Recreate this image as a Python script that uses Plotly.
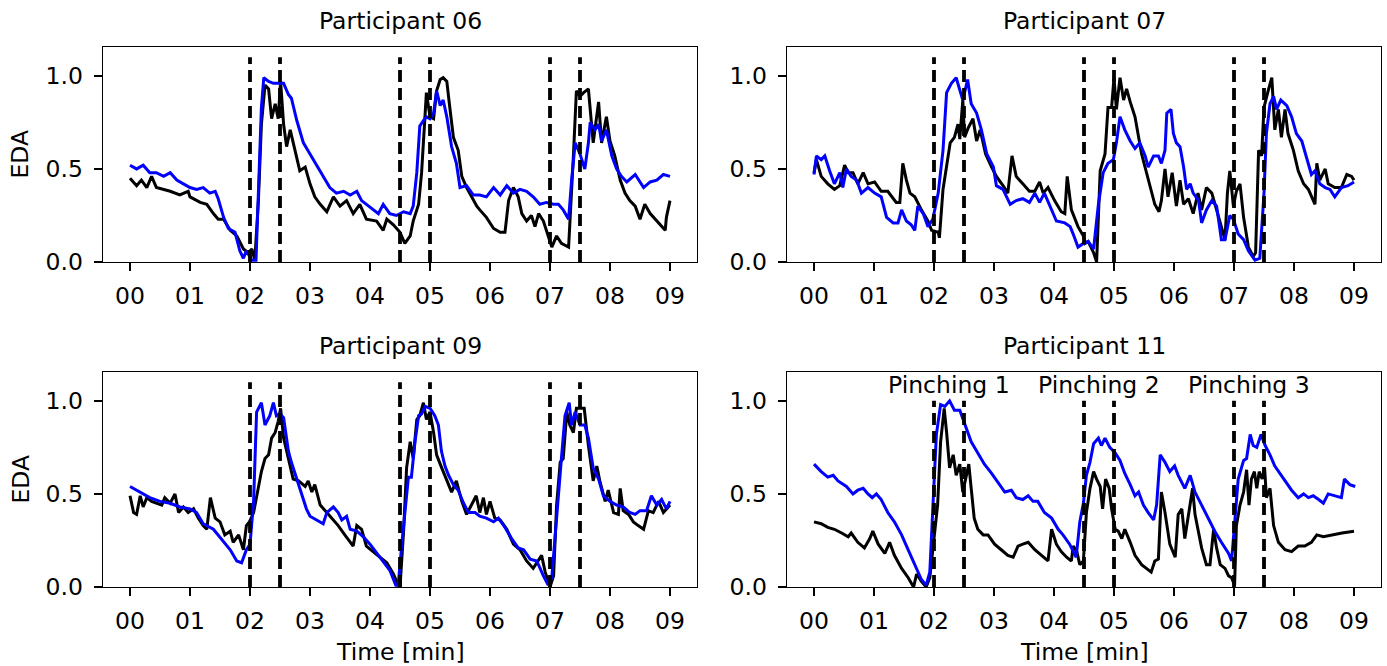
import plotly.graph_objects as go

# ---------------- data ----------------
EVENT_TIMES = [2.0, 2.5, 4.5, 5.0, 7.0, 7.5]
X_TICKS = [0, 1, 2, 3, 4, 5, 6, 7, 8, 9]
X_TICK_LABELS = ["00", "01", "02", "03", "04", "05", "06", "07", "08", "09"]
Y_TICKS = [0.0, 0.5, 1.0]
Y_TICK_LABELS = ["0.0", "0.5", "1.0"]
PINCH_LABELS = ["Pinching 1", "Pinching 2", "Pinching 3"]
PINCH_CENTERS = [2.25, 4.75, 7.25]

p06_t_black = [0, 0.11, 0.19, 0.28, 0.36, 0.44, 0.67, 0.83, 0.97, 1.0,
               1.17, 1.28, 1.39, 1.47, 1.56, 1.67, 1.78, 1.89, 1.97, 2.03,
               2.08, 2.14, 2.19, 2.25, 2.31, 2.36, 2.42, 2.47, 2.51, 2.56,
               2.61, 2.67, 2.75, 2.83, 2.92, 3.0, 3.08, 3.17, 3.28, 3.39,
               3.5, 3.61, 3.72, 3.83, 3.94, 4.11, 4.22, 4.28, 4.39, 4.5,
               4.58, 4.67, 4.72, 4.81, 4.86, 4.92, 4.94, 5.0, 5.06, 5.11,
               5.17, 5.22, 5.28, 5.33, 5.39, 5.47, 5.53, 5.61, 5.69, 5.78,
               5.83, 5.94, 6.06, 6.17, 6.25, 6.31, 6.39, 6.47, 6.53, 6.61,
               6.69, 6.75, 6.81, 6.89, 6.97, 7.03, 7.11, 7.19, 7.31, 7.33,
               7.39, 7.44, 7.5, 7.56, 7.64, 7.72, 7.81, 7.86, 7.94, 8.0,
               8.08, 8.17, 8.25, 8.33, 8.42, 8.5, 8.58, 8.67, 8.78, 8.92,
               8.94, 9.0]
p06_black = [0.45, 0.41, 0.44, 0.40, 0.46, 0.40, 0.38, 0.36, 0.38, 0.35,
             0.32, 0.31, 0.26, 0.23, 0.23, 0.17, 0.14, 0.07, 0.05, 0.07,
             0.01, 0.33, 0.74, 0.95, 0.93, 0.77, 0.85, 0.77, 0.97, 0.74,
             0.62, 0.71, 0.60, 0.49, 0.51, 0.42, 0.35, 0.31, 0.27, 0.35,
             0.30, 0.33, 0.26, 0.31, 0.23, 0.22, 0.17, 0.23, 0.20, 0.16,
             0.10, 0.14, 0.22, 0.31, 0.48, 0.80, 0.91, 0.78, 0.77, 0.92,
             0.98, 0.99, 0.97, 0.83, 0.67, 0.60, 0.46, 0.40, 0.35, 0.30,
             0.28, 0.24, 0.18, 0.16, 0.16, 0.33, 0.40, 0.35, 0.26, 0.22,
             0.25, 0.19, 0.26, 0.22, 0.14, 0.08, 0.14, 0.10, 0.08, 0.19,
             0.57, 0.92, 0.89, 0.91, 0.93, 0.64, 0.86, 0.64, 0.78, 0.65,
             0.57, 0.44, 0.37, 0.33, 0.30, 0.23, 0.31, 0.26, 0.22, 0.17,
             0.24, 0.33]

p06_t_blue = [0, 0.11, 0.22, 0.33, 0.44, 0.56, 0.67, 0.78, 0.89, 1.0,
              1.11, 1.22, 1.33, 1.42, 1.47, 1.56, 1.64, 1.75, 1.83, 1.89,
              1.94, 2.03, 2.1, 2.14, 2.19, 2.23, 2.31, 2.39, 2.47, 2.56,
              2.64, 2.69, 2.78, 2.89, 3.0, 3.11, 3.22, 3.33, 3.44, 3.56,
              3.67, 3.78, 3.86, 3.94, 4.06, 4.14, 4.22, 4.33, 4.44, 4.56,
              4.67, 4.72, 4.78, 4.83, 4.89, 4.94, 5.0, 5.06, 5.11, 5.17,
              5.22, 5.28, 5.36, 5.44, 5.5, 5.61, 5.72, 5.83, 5.94, 6.06,
              6.17, 6.28, 6.39, 6.5, 6.61, 6.72, 6.83, 6.94, 7.06, 7.14,
              7.22, 7.31, 7.36, 7.42, 7.5, 7.58, 7.64, 7.67, 7.75, 7.81,
              7.86, 7.94, 8.03, 8.11, 8.19, 8.28, 8.42, 8.56, 8.67, 8.78,
              8.89, 9.0]
p06_blue = [0.52, 0.50, 0.52, 0.48, 0.48, 0.46, 0.48, 0.44, 0.42, 0.40,
            0.39, 0.40, 0.37, 0.38, 0.34, 0.24, 0.18, 0.16, 0.06, 0.02,
            0.06, 0.01, 0.01, 0.39, 0.83, 0.99, 0.97, 0.96, 0.96, 0.96,
            0.90, 0.88, 0.76, 0.64, 0.58, 0.52, 0.46, 0.40, 0.37, 0.38,
            0.36, 0.38, 0.33, 0.31, 0.28, 0.26, 0.31, 0.26, 0.25, 0.27,
            0.26, 0.30, 0.48, 0.73, 0.76, 0.78, 0.77, 0.80, 0.92, 0.84,
            0.87, 0.78, 0.62, 0.53, 0.40, 0.41, 0.36, 0.36, 0.35, 0.40,
            0.36, 0.41, 0.37, 0.39, 0.38, 0.35, 0.31, 0.32, 0.31, 0.31,
            0.28, 0.23, 0.44, 0.64, 0.58, 0.50, 0.64, 0.75, 0.71, 0.74,
            0.65, 0.71, 0.57, 0.50, 0.46, 0.43, 0.47, 0.40, 0.43, 0.44,
            0.47, 0.46]

p07_t_black = [0, 0.04, 0.12, 0.23, 0.34, 0.43, 0.51, 0.57, 0.65, 0.73,
               0.82, 0.9, 1.01, 1.12, 1.23, 1.37, 1.43, 1.48, 1.54, 1.6,
               1.68, 1.79, 1.9, 1.96, 2.07, 2.09, 2.15, 2.21, 2.27, 2.34,
               2.4, 2.43, 2.48, 2.51, 2.57, 2.65, 2.71, 2.77, 2.86, 2.96,
               3.04, 3.15, 3.23, 3.3, 3.37, 3.48, 3.59, 3.68, 3.76, 3.82,
               3.9, 4.01, 4.12, 4.18, 4.22, 4.29, 4.4, 4.49, 4.52, 4.57,
               4.66, 4.71, 4.77, 4.85, 4.9, 4.96, 5.0, 5.04, 5.1, 5.16,
               5.21, 5.27, 5.35, 5.46, 5.57, 5.68, 5.75, 5.79, 5.85, 5.9,
               5.97, 6.04, 6.1, 6.16, 6.24, 6.32, 6.4, 6.46, 6.54, 6.63,
               6.71, 6.79, 6.85, 6.89, 6.93, 6.99, 7.04, 7.1, 7.16, 7.24,
               7.32, 7.36, 7.41, 7.46, 7.5, 7.57, 7.63, 7.68, 7.74, 7.79,
               7.85, 7.9, 7.99, 8.07, 8.16, 8.24, 8.35, 8.38, 8.43, 8.52,
               8.57, 8.68, 8.79, 8.88, 8.96, 9.0]
p07_black = [0.48, 0.55, 0.46, 0.42, 0.39, 0.41, 0.52, 0.48, 0.48, 0.42,
             0.48, 0.42, 0.43, 0.38, 0.38, 0.32, 0.32, 0.53, 0.44, 0.37,
             0.35, 0.28, 0.22, 0.17, 0.16, 0.13, 0.39, 0.51, 0.64, 0.67,
             0.74, 0.66, 0.87, 0.67, 0.72, 0.77, 0.65, 0.71, 0.58, 0.51,
             0.46, 0.41, 0.37, 0.57, 0.46, 0.42, 0.38, 0.38, 0.43, 0.37,
             0.40, 0.33, 0.27, 0.26, 0.46, 0.28, 0.19, 0.14, 0.10, 0.11,
             0.05, 0.00, 0.49, 0.58, 0.83, 0.83, 0.99, 0.82, 0.99, 0.87,
             0.93, 0.86, 0.78, 0.58, 0.44, 0.31, 0.27, 0.33, 0.50, 0.35,
             0.48, 0.30, 0.44, 0.31, 0.34, 0.26, 0.37, 0.28, 0.40, 0.37,
             0.28, 0.19, 0.12, 0.37, 0.49, 0.30, 0.38, 0.42, 0.24, 0.08,
             0.03, 0.05, 0.60, 0.57, 0.83, 0.92, 0.99, 0.71, 0.82, 0.67,
             0.82, 0.69, 0.60, 0.49, 0.42, 0.39, 0.31, 0.53, 0.44, 0.50,
             0.42, 0.40, 0.40, 0.47, 0.46, 0.44]

p07_t_blue = [0, 0.04, 0.12, 0.18, 0.26, 0.34, 0.43, 0.48, 0.54, 0.62,
              0.71, 0.79, 0.9, 1.01, 1.12, 1.21, 1.32, 1.4, 1.46, 1.54,
              1.62, 1.68, 1.73, 1.82, 1.9, 1.98, 2.07, 2.15, 2.21, 2.29,
              2.37, 2.43, 2.48, 2.56, 2.62, 2.71, 2.79, 2.88, 2.99, 3.04,
              3.15, 3.27, 3.37, 3.48, 3.59, 3.68, 3.76, 3.84, 3.96, 4.04,
              4.18, 4.27, 4.32, 4.4, 4.49, 4.57, 4.66, 4.74, 4.82, 4.9,
              4.99, 5.04, 5.1, 5.18, 5.27, 5.35, 5.43, 5.52, 5.57, 5.66,
              5.74, 5.79, 5.85, 5.88, 5.95, 5.99, 6.04, 6.1, 6.16, 6.21,
              6.27, 6.32, 6.41, 6.46, 6.54, 6.63, 6.71, 6.79, 6.85, 6.93,
              6.99, 7.07, 7.16, 7.24, 7.35, 7.43, 7.5, 7.54, 7.6, 7.66,
              7.71, 7.78, 7.88, 7.96, 8.04, 8.13, 8.21, 8.29, 8.35, 8.43,
              8.52, 8.6, 8.68, 8.79, 8.9, 9.0]
p07_blue = [0.47, 0.57, 0.55, 0.57, 0.49, 0.42, 0.48, 0.40, 0.50, 0.46,
            0.44, 0.37, 0.40, 0.37, 0.35, 0.24, 0.21, 0.21, 0.28, 0.22,
            0.20, 0.17, 0.30, 0.26, 0.19, 0.23, 0.37, 0.60, 0.91, 0.96,
            0.99, 0.93, 0.87, 0.98, 0.85, 0.80, 0.71, 0.58, 0.51, 0.41,
            0.39, 0.31, 0.33, 0.34, 0.32, 0.37, 0.32, 0.37, 0.28, 0.22,
            0.21, 0.19, 0.15, 0.08, 0.10, 0.11, 0.07, 0.31, 0.48, 0.53,
            0.55, 0.64, 0.78, 0.71, 0.65, 0.61, 0.64, 0.57, 0.51, 0.57,
            0.57, 0.53, 0.60, 0.80, 0.82, 0.69, 0.64, 0.62, 0.51, 0.39,
            0.42, 0.37, 0.33, 0.21, 0.28, 0.33, 0.30, 0.12, 0.12, 0.25,
            0.23, 0.15, 0.12, 0.06, 0.01, 0.02, 0.37, 0.69, 0.85, 0.89,
            0.82, 0.87, 0.84, 0.78, 0.69, 0.65, 0.56, 0.47, 0.49, 0.42,
            0.40, 0.39, 0.35, 0.40, 0.41, 0.43]

p09_t_black = [0, 0.06, 0.11, 0.17, 0.22, 0.28, 0.36, 0.44, 0.53, 0.58,
               0.67, 0.75, 0.81, 0.89, 0.97, 1.06, 1.14, 1.22, 1.28, 1.34,
               1.42, 1.5, 1.58, 1.67, 1.72, 1.81, 1.89, 1.94, 1.99, 2.06,
               2.14, 2.19, 2.25, 2.31, 2.36, 2.42, 2.47, 2.51, 2.56, 2.64,
               2.72, 2.81, 2.92, 2.97, 3.03, 3.08, 3.17, 3.28, 3.36, 3.47,
               3.58, 3.72, 3.78, 3.86, 3.94, 4.06, 4.17, 4.28, 4.39, 4.47,
               4.5, 4.56, 4.61, 4.67, 4.72, 4.78, 4.83, 4.89, 4.94, 5.0,
               5.06, 5.11, 5.17, 5.22, 5.28, 5.36, 5.44, 5.53, 5.61, 5.69,
               5.77, 5.83, 5.89, 5.94, 6.0, 6.08, 6.17, 6.28, 6.39, 6.5,
               6.61, 6.72, 6.81, 6.86, 6.92, 7.0, 7.06, 7.11, 7.17, 7.22,
               7.28, 7.33, 7.39, 7.44, 7.5, 7.57, 7.64, 7.72, 7.78, 7.83,
               7.92, 7.97, 8.06, 8.14, 8.17, 8.22, 8.31, 8.39, 8.47, 8.56,
               8.64, 8.72, 8.81, 8.89, 9.0]
p09_black = [0.49, 0.40, 0.39, 0.49, 0.43, 0.48, 0.46, 0.45, 0.44, 0.48,
             0.45, 0.50, 0.40, 0.43, 0.40, 0.42, 0.37, 0.33, 0.31, 0.48,
             0.37, 0.35, 0.28, 0.30, 0.24, 0.28, 0.20, 0.33, 0.35, 0.40,
             0.53, 0.62, 0.69, 0.71, 0.80, 0.83, 0.89, 0.96, 0.80, 0.69,
             0.58, 0.57, 0.54, 0.57, 0.51, 0.55, 0.44, 0.40, 0.37, 0.33,
             0.28, 0.22, 0.33, 0.31, 0.22, 0.19, 0.16, 0.13, 0.07, 0.01,
             0.00, 0.30, 0.64, 0.78, 0.69, 0.90, 0.92, 0.99, 0.90, 0.94,
             0.83, 0.71, 0.66, 0.62, 0.58, 0.51, 0.57, 0.46, 0.39, 0.44,
             0.49, 0.40, 0.48, 0.39, 0.46, 0.37, 0.36, 0.31, 0.23, 0.20,
             0.14, 0.10, 0.15, 0.17, 0.08, 0.00, 0.06, 0.44, 0.67, 0.69,
             0.94, 0.87, 0.83, 0.96, 0.96, 0.96, 0.76, 0.57, 0.65, 0.57,
             0.46, 0.52, 0.40, 0.39, 0.53, 0.41, 0.39, 0.35, 0.33, 0.31,
             0.41, 0.40, 0.46, 0.40, 0.44]

p09_t_blue = [0, 0.17, 0.33, 0.5, 0.67, 0.83, 1.0, 1.11, 1.22, 1.39,
              1.56, 1.67, 1.78, 1.86, 1.94, 2.0, 2.06, 2.11, 2.19, 2.25,
              2.33, 2.39, 2.44, 2.5, 2.56, 2.64, 2.69, 2.78, 2.86, 2.94,
              3.0, 3.11, 3.22, 3.28, 3.39, 3.47, 3.53, 3.61, 3.67, 3.78,
              3.89, 4.0, 4.17, 4.33, 4.43, 4.47, 4.53, 4.58, 4.64, 4.69,
              4.75, 4.81, 4.86, 4.92, 5.0, 5.08, 5.14, 5.19, 5.25, 5.31,
              5.39, 5.47, 5.56, 5.64, 5.75, 5.83, 5.94, 6.06, 6.14, 6.25,
              6.36, 6.47, 6.56, 6.67, 6.78, 6.89, 6.97, 7.03, 7.08, 7.14,
              7.19, 7.25, 7.32, 7.36, 7.42, 7.5, 7.58, 7.64, 7.72, 7.81,
              7.89, 8.0, 8.11, 8.22, 8.33, 8.42, 8.5, 8.61, 8.69, 8.78,
              8.86, 8.94, 9.0]
p09_blue = [0.54, 0.51, 0.48, 0.46, 0.45, 0.43, 0.42, 0.40, 0.34, 0.31,
            0.24, 0.20, 0.14, 0.13, 0.20, 0.23, 0.46, 0.94, 0.99, 0.87,
            0.92, 0.99, 0.92, 0.93, 0.91, 0.73, 0.67, 0.58, 0.50, 0.42,
            0.38, 0.36, 0.34, 0.40, 0.43, 0.40, 0.36, 0.38, 0.31, 0.30,
            0.27, 0.23, 0.16, 0.09, 0.01, 0.01, 0.23, 0.39, 0.59, 0.59,
            0.78, 0.92, 0.93, 0.97, 0.96, 0.92, 0.87, 0.73, 0.65, 0.60,
            0.55, 0.52, 0.45, 0.40, 0.40, 0.38, 0.37, 0.35, 0.37, 0.32,
            0.26, 0.21, 0.20, 0.15, 0.14, 0.06, 0.01, 0.05, 0.26, 0.49,
            0.69, 0.92, 0.99, 0.87, 0.94, 0.87, 0.87, 0.80, 0.64, 0.58,
            0.49, 0.46, 0.44, 0.43, 0.40, 0.39, 0.41, 0.41, 0.49, 0.44,
            0.47, 0.42, 0.46]

p11_t_black = [0, 0.12, 0.23, 0.34, 0.46, 0.57, 0.62, 0.73, 0.84, 0.93,
               0.98, 1.07, 1.18, 1.26, 1.34, 1.46, 1.57, 1.66, 1.71, 1.79,
               1.87, 1.93, 2.0, 2.06, 2.11, 2.17, 2.21, 2.26, 2.32, 2.37,
               2.43, 2.48, 2.54, 2.58, 2.62, 2.67, 2.73, 2.82, 2.9, 3.01,
               3.12, 3.23, 3.32, 3.4, 3.48, 3.57, 3.68, 3.79, 3.9, 3.96,
               4.04, 4.12, 4.21, 4.29, 4.32, 4.38, 4.43, 4.49, 4.54, 4.6,
               4.66, 4.71, 4.77, 4.81, 4.86, 4.92, 4.96, 5.02, 5.07, 5.13,
               5.18, 5.27, 5.35, 5.46, 5.54, 5.62, 5.68, 5.74, 5.79, 5.85,
               5.93, 6.02, 6.07, 6.13, 6.18, 6.24, 6.31, 6.35, 6.41, 6.46,
               6.54, 6.6, 6.66, 6.71, 6.77, 6.85, 6.91, 6.96, 7.01, 7.04,
               7.1, 7.16, 7.21, 7.25, 7.29, 7.34, 7.38, 7.42, 7.47, 7.51,
               7.54, 7.6, 7.66, 7.74, 7.85, 7.96, 8.07, 8.18, 8.29, 8.38,
               8.49, 8.63, 8.8, 9.0]
p11_black = [0.35, 0.34, 0.32, 0.31, 0.29, 0.27, 0.29, 0.24, 0.21, 0.26,
             0.30, 0.23, 0.18, 0.24, 0.17, 0.10, 0.05, 0.00, 0.07, 0.03,
             0.00, 0.05, 0.26, 0.44, 0.78, 0.96, 0.83, 0.64, 0.71, 0.60,
             0.66, 0.51, 0.60, 0.66, 0.53, 0.37, 0.31, 0.28, 0.28, 0.23,
             0.20, 0.17, 0.16, 0.22, 0.23, 0.24, 0.20, 0.17, 0.14, 0.31,
             0.23, 0.19, 0.16, 0.14, 0.22, 0.19, 0.12, 0.14, 0.40, 0.53,
             0.62, 0.58, 0.54, 0.42, 0.58, 0.53, 0.42, 0.31, 0.30, 0.26,
             0.31, 0.24, 0.17, 0.12, 0.10, 0.08, 0.14, 0.15, 0.51, 0.40,
             0.23, 0.16, 0.39, 0.42, 0.26, 0.39, 0.53, 0.39, 0.28, 0.21,
             0.12, 0.12, 0.31, 0.21, 0.12, 0.10, 0.06, 0.05, 0.01, 0.33,
             0.44, 0.51, 0.63, 0.44, 0.58, 0.62, 0.53, 0.62, 0.58, 0.64,
             0.48, 0.53, 0.33, 0.24, 0.20, 0.19, 0.22, 0.22, 0.24, 0.28,
             0.27, 0.28, 0.29, 0.30]

p11_t_blue = [0, 0.12, 0.23, 0.32, 0.4, 0.54, 0.65, 0.73, 0.82, 0.9,
              0.97, 1.04, 1.12, 1.23, 1.34, 1.46, 1.57, 1.68, 1.79, 1.87,
              1.93, 1.98, 2.04, 2.11, 2.18, 2.26, 2.34, 2.43, 2.51, 2.62,
              2.73, 2.84, 2.96, 3.07, 3.18, 3.29, 3.37, 3.48, 3.57, 3.65,
              3.73, 3.84, 3.96, 4.07, 4.15, 4.26, 4.37, 4.43, 4.49, 4.54,
              4.6, 4.66, 4.74, 4.79, 4.85, 4.93, 5.02, 5.1, 5.18, 5.27,
              5.35, 5.41, 5.49, 5.57, 5.66, 5.71, 5.77, 5.85, 5.93, 6.01,
              6.07, 6.18, 6.27, 6.35, 6.46, 6.57, 6.68, 6.79, 6.91, 6.96,
              7.01, 7.07, 7.16, 7.21, 7.27, 7.32, 7.38, 7.45, 7.52, 7.6,
              7.68, 7.77, 7.85, 7.96, 8.07, 8.16, 8.24, 8.32, 8.41, 8.49,
              8.57, 8.68, 8.79, 8.84, 8.93, 9.02]
p11_blue = [0.66, 0.62, 0.59, 0.60, 0.57, 0.54, 0.50, 0.52, 0.53, 0.50,
            0.48, 0.50, 0.47, 0.40, 0.35, 0.28, 0.20, 0.12, 0.04, 0.01,
            0.08, 0.42, 0.82, 0.98, 0.97, 1.00, 0.95, 0.95, 0.88, 0.78,
            0.72, 0.66, 0.61, 0.56, 0.51, 0.52, 0.48, 0.47, 0.49, 0.46,
            0.46, 0.40, 0.37, 0.31, 0.28, 0.23, 0.16, 0.35, 0.45, 0.60,
            0.67, 0.77, 0.80, 0.76, 0.80, 0.75, 0.72, 0.68, 0.61, 0.55,
            0.49, 0.51, 0.44, 0.40, 0.36, 0.44, 0.71, 0.67, 0.62, 0.65,
            0.60, 0.53, 0.60, 0.51, 0.44, 0.37, 0.30, 0.24, 0.18, 0.14,
            0.35, 0.58, 0.68, 0.69, 0.82, 0.76, 0.75, 0.82, 0.76, 0.71,
            0.65, 0.61, 0.57, 0.52, 0.48, 0.50, 0.48, 0.49, 0.47, 0.45,
            0.50, 0.49, 0.48, 0.58, 0.55, 0.54]

# ---------------- layout helpers ----------------
W, H = 1387, 666
FONT = "DejaVu Sans"
FS = 23.5
BLACK = "#000000"
BLUE = "#0000ff"

# panel pixel boxes: (left, right, top, bottom)
BOXES = [(103, 697, 47, 262), (787, 1381, 47, 262),
         (103, 697, 372, 587), (787, 1381, 372, 587)]

panels = [
    ("Participant 06", p06_t_black, p06_black, p06_t_blue, p06_blue, 1.1),
    ("Participant 07", p07_t_black, p07_black, p07_t_blue, p07_blue, 1.1),
    ("Participant 09", p09_t_black, p09_black, p09_t_blue, p09_blue, 1.1),
    ("Participant 11", p11_t_black, p11_black, p11_t_blue, p11_blue, 1.0),
]

fig = go.Figure()
annotations = []

for i, (title, tb, vb, tu, vu, vtop) in enumerate(panels):
    n = i + 1
    xa = "x" if n == 1 else f"x{n}"
    ya = "y" if n == 1 else f"y{n}"
    fig.add_trace(go.Scatter(x=tb, y=vb, mode="lines", xaxis=xa, yaxis=ya,
                             line=dict(color=BLACK, width=3), showlegend=False))
    fig.add_trace(go.Scatter(x=tu, y=vu, mode="lines", xaxis=xa, yaxis=ya,
                             line=dict(color=BLUE, width=3), showlegend=False))
    vx, vy = [], []
    for t in EVENT_TIMES:
        vx += [t, t, None]
        vy += [0, vtop, None]
    fig.add_trace(go.Scatter(x=vx, y=vy, mode="lines", xaxis=xa, yaxis=ya,
                             line=dict(color=BLACK, width=3.8, dash="12px,6px"),
                             showlegend=False, connectgaps=False))

    l, r, t_, b = BOXES[i]
    xdom = [l / W, r / W]
    ydom = [1 - b / H, 1 - t_ / H]
    axis_common = dict(showline=True, linecolor=BLACK, linewidth=1.4, mirror=True,
                       ticks="outside", ticklen=8, tickwidth=1.4, tickcolor=BLACK,
                       showgrid=False, zeroline=False,
                       tickfont=dict(family=FONT, size=FS, color=BLACK))
    fig.layout[f"xaxis{'' if n == 1 else n}"] = dict(
        domain=xdom, anchor=ya, range=[-0.45, 9.45],
        tickvals=X_TICKS, ticktext=X_TICK_LABELS, ticklabelstandoff=4, **axis_common)
    fig.layout[f"yaxis{'' if n == 1 else n}"] = dict(
        domain=ydom, anchor=xa, range=[0, 1.155],
        tickvals=Y_TICKS, ticktext=Y_TICK_LABELS, ticklabelstandoff=6, **axis_common)

    cx = (l + r) / 2 / W
    annotations.append(dict(text=title, x=cx, y=1 - (t_ - 26) / H, xref="paper", yref="paper",
                            showarrow=False, xanchor="center", yanchor="middle",
                            font=dict(family=FONT, size=FS, color=BLACK)))
    if n in (1, 3):
        annotations.append(dict(text="EDA", x=20 / W, y=1 - ((t_ + b) / 2) / H,
                                xref="paper", yref="paper", textangle=-90,
                                showarrow=False, xanchor="center", yanchor="middle",
                                font=dict(family=FONT, size=FS, color=BLACK)))
    if n in (3, 4):
        annotations.append(dict(text="Time [min]", x=cx, y=1 - 652 / H,
                                xref="paper", yref="paper",
                                showarrow=False, xanchor="center", yanchor="middle",
                                font=dict(family=FONT, size=FS, color=BLACK)))
    if n == 4:
        for lab, c in zip(PINCH_LABELS, PINCH_CENTERS):
            annotations.append(dict(text=lab, x=c, y=1.086, xref=xa, yref=ya,
                                    showarrow=False, xanchor="center", yanchor="middle",
                                    font=dict(family=FONT, size=FS, color=BLACK)))

fig.update_layout(width=W, height=H, margin=dict(l=0, r=0, t=0, b=0, autoexpand=False),
                  plot_bgcolor="white", paper_bgcolor="white",
                  font=dict(family=FONT, size=FS, color=BLACK),
                  annotations=annotations, showlegend=False)

fig.write_html("out.html",
               config={"displayModeBar": False, "staticPlot": True},
               post_script="document.body.style.margin='0px';"
                           "document.body.style.overflow='hidden';")
